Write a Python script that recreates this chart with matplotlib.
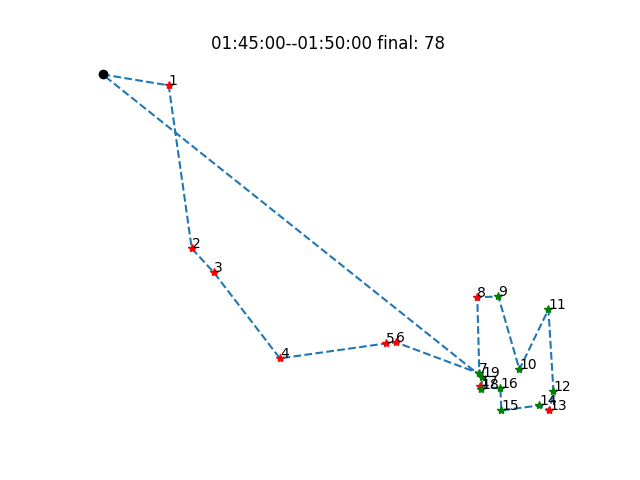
import matplotlib
matplotlib.use("Agg")
import matplotlib.pyplot as plt

start = (103, 406)
xs = [169, 192, 214, 280, 386, 396, 479, 477, 498, 519, 548, 553, 549, 539, 501, 500, 480, 481, 482]
ys = [395, 232, 208, 122, 137, 138, 107, 183, 184, 111, 171, 89, 70, 75, 70, 92, 94, 91, 103]
colors = ['r', 'r', 'r', 'r', 'r', 'r', 'g', 'r', 'g', 'g', 'g', 'g', 'r', 'g', 'g', 'g', 'r', 'g', 'g']
labels = [str(i) for i in range(1, 20)]

fig, ax = plt.subplots(figsize=(6.4, 4.8), dpi=100)
px = [start[0]] + xs + [start[0]]
py = [start[1]] + ys + [start[1]]
ax.plot(px, py, '--', color='C0')
ax.plot(start[0], start[1], 'o', color='k')
for x, y, c, l in zip(xs, ys, colors, labels):
    ax.plot(x, y, '*', color=c)
    ax.annotate(l, (x, y))
ax.set_title('01:45:00--01:50:00 final: 78')
ax.axis('off')
fig.savefig('out.png')
